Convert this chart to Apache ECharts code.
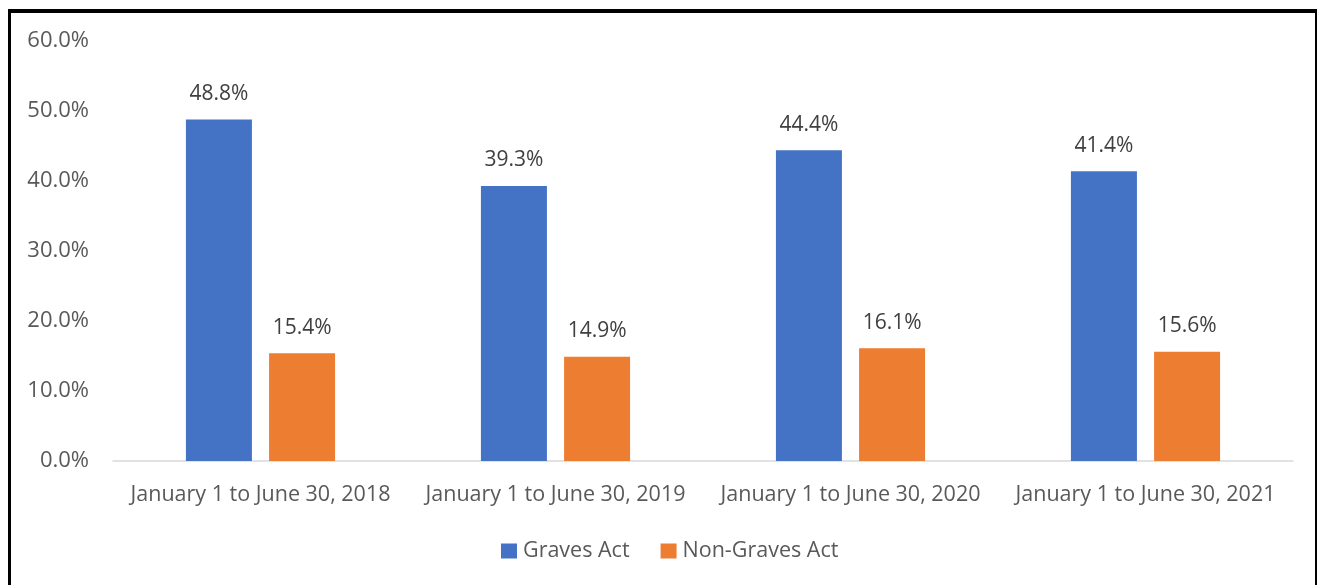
<!DOCTYPE html>
<html><head><meta charset="utf-8">
<script src="https://cdn.jsdelivr.net/npm/echarts@6/dist/echarts.min.js"></script>
<style>
html,body{margin:0;padding:0;background:#fff;}
#frame{position:absolute;left:8px;top:9px;width:1309px;height:600px;border-top:4px solid #000;border-left:3px solid #000;border-right:2px solid #000;box-sizing:border-box;}
#chart{position:absolute;left:0;top:0;width:1322px;height:585px;}
</style></head>
<body>
<div id="frame"></div>
<div id="chart"></div>
<script>
const categories = ["January 1 to June 30, 2018","January 1 to June 30, 2019","January 1 to June 30, 2020","January 1 to June 30, 2021"];
const gravesAct = [48.8, 39.3, 44.4, 41.4];
const nonGravesAct = [15.4, 14.9, 16.1, 15.6];
const seriesNames = ["Graves Act","Non-Graves Act"];
const FONT = "Open Sans";
const chart = echarts.init(document.getElementById('chart'));
const lbl = {show:true, position:'top', distance:15, color:'#404040', fontFamily:FONT, fontSize:21, formatter: p => p.value.toFixed(1)+'%'};
chart.setOption({
  animation:false,
  textStyle:{fontFamily:FONT},
  grid:{left:113, right:29, top:41, bottom:124},
  legend:{top:535, left:496, itemWidth:16, itemHeight:15, itemGap:31, icon:'rect',
    textStyle:{color:'#595959', fontSize:21.5, fontFamily:FONT, padding:[0,0,0,1]}, data:seriesNames},
  xAxis:{type:'category', data:categories,
    axisLine:{lineStyle:{color:'#d9d9d9', width:1.5}}, axisTick:{show:false},
    axisLabel:{color:'#595959', fontSize:21.5, fontFamily:FONT, margin:23, interval:0}},
  yAxis:{type:'value', min:0, max:60, interval:10,
    splitLine:{show:false}, axisLine:{show:false}, axisTick:{show:false},
    axisLabel:{color:'#595959', fontSize:22, fontFamily:FONT, margin:24, formatter: v => v.toFixed(1)+'%'}},
  series:[
    {name:seriesNames[0], type:'bar', data:gravesAct, barWidth:66, barGap:'26%', itemStyle:{color:'#4472c4'}, label:lbl},
    {name:seriesNames[1], type:'bar', data:nonGravesAct, barWidth:66, itemStyle:{color:'#ed7d31'}, label:lbl}
  ]
});
</script>
</body></html>
